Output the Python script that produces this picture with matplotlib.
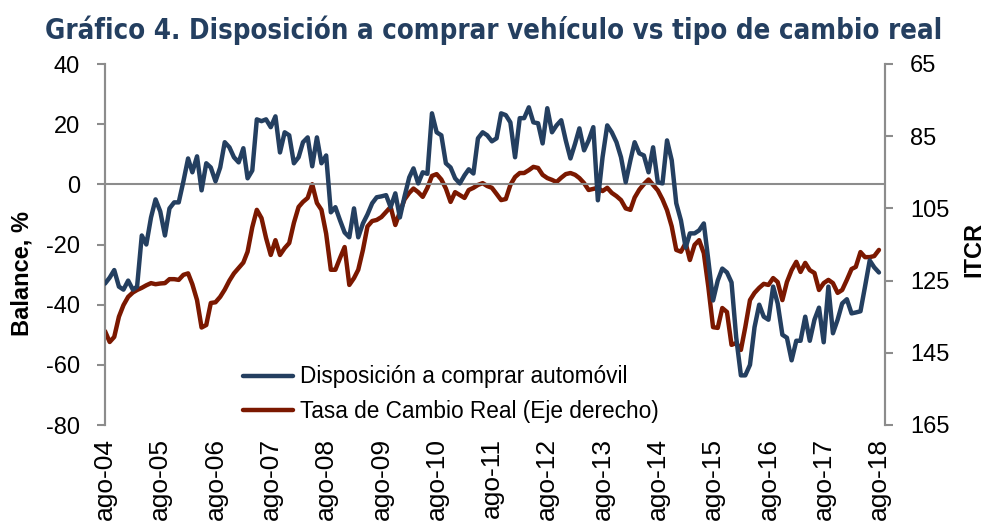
import pandas as pd
import matplotlib.pyplot as plt

plt.rcParams['font.family'] = ['Liberation Sans', 'DejaVu Sans']
plt.rcParams['axes.unicode_minus'] = False

# monthly, ago-04 .. ago-18
dates = pd.date_range('2004-08-01', periods=169, freq='MS')

# Disposición a comprar automóvil (balance, %)
disposicion = [
    -33, -31, -28.5, -34, -35, -32, -35, -34, -17, -20, -11, -5,
    -9, -17, -8, -6, -6, 1, 8.6, 4, 9.3, -2, 7, 5.6,
    1, 5.6, 14, 12.3, 9, 7.3, 12, 2, 4.6, 21.6, 21, 21.6,
    19, 22.6, 10.6, 17.3, 16.3, 7, 9, 14, 15.6, 6, 15.6, 7,
    9.6, -9.3, -7.6, -12, -16, -17.6, -8, -17.6, -13, -10, -6.3, -4.3,
    -4, -3.6, -7.6, -3, -11, -4, 2.3, 5.3, 0.3, 4, 3.5, 23.6,
    17.3, 16.3, 7, 5.6, 2, 0.3, 3, 5, 3.6, 15.3, 17.3, 16.3,
    14.3, 15.3, 23.6, 23, 20.6, 9, 22, 22, 25.6, 20.6, 20.3, 13.6,
    25.3, 17.3, 19.6, 21.3, 14.6, 8.6, 13.6, 18.6, 11.3, 14.6, 19, -5.3,
    9, 19.6, 17.3, 14, 9, 0.7, 8, 14, 10.3, 9.6, 4, 12.3,
    0.7, 0.3, 14.6, 8, -6.3, -12, -21, -16.3, -16.3, -15.3, -13, -25.3,
    -38.6, -32, -28, -29.3, -32.6, -50.9, -63.5, -63.5, -60, -47.5, -40, -44,
    -45, -34, -39.6, -50, -51, -58.5, -52, -52, -44, -52, -45, -41,
    -52.5, -34, -49.5, -45, -39.6, -38.2, -42.9, -42.6, -42.2, -34, -25.3, -27.6,
    -29.3,
]

# Tasa de Cambio Real (ITCR, eje derecho)
itcr = [
    139, 142, 140.6, 135, 131.8, 129.5, 128.3, 127.6, 127, 126.3, 125.7, 126,
    125.8, 125.7, 124.6, 124.6, 124.8, 123.4, 123, 126, 130.4, 138, 137.3, 131.2,
    131, 129.5, 127.5, 125, 123, 121.5, 120, 117, 110.2, 105.4, 107.7, 113.2,
    117.9, 113.8, 117.9, 116, 114.6, 109, 104.6, 103.2, 102.1, 98.3, 103.5, 105.4,
    112, 122, 122, 118.7, 115.7, 126.2, 124.3, 122, 116.5, 110, 108.5, 108.2,
    107.4, 106, 104.6, 109.6, 106, 102.5, 100.7, 99.5, 100.5, 101.8, 99.3, 96,
    95.5, 97, 99.5, 103.2, 100.5, 101.3, 102.1, 99.9, 99.3, 98.5, 98, 98.8,
    99.3, 101, 102.7, 102.4, 98.5, 96.3, 95.2, 95.2, 94.4, 93.5, 93.8, 95.7,
    96.6, 97.1, 97.7, 96.5, 95.5, 95.2, 95.7, 96.6, 98, 99.9, 99.6, 99.3,
    100.2, 99.3, 100.7, 101.6, 102.7, 105, 105.4, 102, 99.8, 98.3, 97, 98.5,
    100, 102.5, 105.5, 110, 116.5, 117, 114.6, 119.3, 115.1, 113.8, 117.4, 126.8,
    137.9, 138.1, 132.6, 133.7, 142.8, 142.3, 144.2, 137.9, 130.4, 128.4, 127, 125.9,
    126.2, 124.3, 125.4, 130.4, 125.4, 122.1, 119.8, 122.6, 120.1, 122.1, 122.9, 127.6,
    125.7, 124.8, 125.7, 128.4, 127.6, 124.8, 121.8, 121.2, 117.1, 118.5, 118.5, 118.2,
    116.5,
]

tick_dates = pd.date_range('2004-08-01', '2018-08-01', freq='12MS')
tick_labels = ['ago-%02d' % (d.year % 100) for d in tick_dates]

blue = '#243F60'
red = '#7B1800'
grey = '#8C8C8C'

fig = plt.figure(figsize=(9.88, 5.29), dpi=100)
ax1 = fig.add_axes([105/988, 1 - 425/529, (885 - 105)/988, (425 - 64)/529])
ax2 = ax1.twinx()

ax1.axhline(0, color=grey, lw=1.5, zorder=1)
l1, = ax1.plot(dates, disposicion, color=blue, lw=3.2, solid_capstyle='round',
               label='Disposición a comprar automóvil', zorder=3)
l2, = ax2.plot(dates, itcr, color=red, lw=3.2, solid_capstyle='round',
               label='Tasa de Cambio Real (Eje derecho)', zorder=3)

ax1.set_zorder(ax2.get_zorder() + 1)
ax1.patch.set_visible(False)

ax1.set_xlim(dates[0], dates[-1] + pd.Timedelta(days=40))
ax1.set_ylim(-80, 40)
ax1.set_yticks(range(-80, 41, 20))
ax2.set_ylim(165, 65)
ax2.set_yticks(range(65, 166, 20))

ax1.set_xticks(tick_dates)
ax1.set_xticklabels(tick_labels, rotation=90, fontsize=19)
ax1.tick_params(axis='x', length=0, pad=9)
ax1.tick_params(axis='y', labelsize=17, color=grey, width=1.5, length=6, pad=12)
ax2.tick_params(axis='y', labelsize=17, color=grey, width=1.5, length=6, pad=12)

for ax in (ax1, ax2):
    for s in ('top', 'bottom'):
        ax.spines[s].set_visible(False)
    ax.spines['left'].set_color(grey)
    ax.spines['right'].set_color(grey)
    ax.spines['left'].set_linewidth(1.5)
    ax.spines['right'].set_linewidth(1.5)

ax1.set_ylabel('Balance, %', fontsize=17, fontweight='bold')
ax1.yaxis.set_label_coords(-0.092, 0.42)
ax2.set_ylabel('ITCR', fontsize=17, fontweight='bold')
ax2.yaxis.set_label_coords(1.099, 0.485)

ax1.legend(handles=[l1, l2], loc='upper left', bbox_to_anchor=(0.165, 0.19),
           frameon=False, fontsize=16.3, handlelength=2.2, labelspacing=0.5,
           handletextpad=0.35, borderaxespad=0)

fig.text(0.5, 0.943, 'Gráfico 4. Disposición a comprar vehículo vs tipo de cambio real',
         ha='center', va='center', fontsize=19.8, fontweight='bold', color=blue,
         family=['Liberation Sans Narrow', 'DejaVu Sans'], fontstretch='condensed')

fig.savefig('out.png', dpi=100)
